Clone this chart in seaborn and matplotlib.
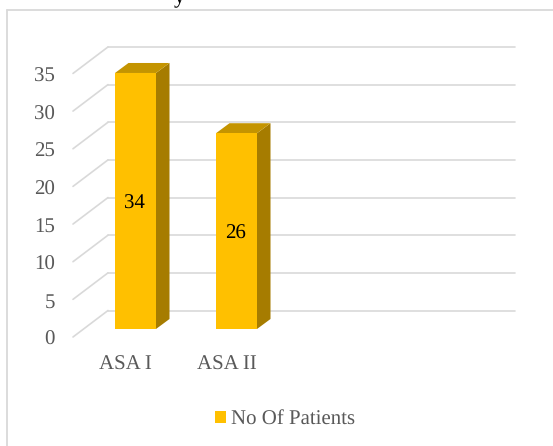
import matplotlib

matplotlib.use("Agg")

import matplotlib.pyplot as plt
import pandas as pd
import seaborn as sns
from matplotlib.lines import Line2D
from matplotlib.patches import Polygon
from matplotlib.transforms import Affine2D

CATEGORIES = ["ASA I", "ASA II"]
PATIENTS = [34, 26]
SERIES_NAME = "No Of Patients"
Y_TICKS = [0, 5, 10, 15, 20, 25, 30, 35]

GOLD = "#ffc000"
GOLD_SIDE = "#a67c00"
GOLD_TOP = "#c49400"
GRID = "#d9d9d9"
TEXT = "#595959"

W, H = 553, 446
PX = 1 / 100
PLOT_LEFT, PLOT_RIGHT = 85, 489
BASE_Y, PX_PER_UNIT = 329, 7.53

sns.set_theme(style="white")
plt.rcParams["font.family"] = ["Liberation Serif", "DejaVu Serif"]
plt.rcParams["text.hinting"] = "no_hinting"

df = pd.DataFrame({"grade": CATEGORIES, "patients": PATIENTS, "series": SERIES_NAME})

fig = plt.figure(figsize=(W * PX, H * PX), dpi=100)
ax = fig.add_axes(
    [
        PLOT_LEFT / W,
        (H - BASE_Y) / H,
        (PLOT_RIGHT - PLOT_LEFT) / W,
        35 * PX_PER_UNIT / H,
    ]
)
ax.patch.set_alpha(0)

sns.barplot(
    data=df,
    x="grade",
    y="patients",
    hue="series",
    palette=[GOLD],
    width=0.406,
    saturation=1,
    linewidth=0,
    edgecolor="none",
    ax=ax,
    zorder=3,
)
ax.set_xlim(-0.5, 3.5)
ax.set_ylim(0, 35)
ax.set_xlabel("")
ax.set_ylabel("")
sns.despine(ax=ax, left=True, bottom=True)

# chart frame, only top and left fall inside the crop
for xs, ys in [((7, 7), (0, 436)), ((7, W), (436, 436))]:
    fig.add_artist(
        Line2D(
            [x / W for x in xs],
            [y / H for y in ys],
            color=GRID,
            lw=1.3,
            transform=fig.transFigure,
        )
    )

# walls of the 3d box, shifted in pixels from the data position
front = ax.transData + Affine2D().translate(0, -8)
back = ax.transData + Affine2D().translate(0, 18.5)
x_front = -0.5 + (73 - PLOT_LEFT) / 101
x_back = -0.5 + (108 - PLOT_LEFT) / 101
x_end = -0.5 + (515 - PLOT_LEFT) / 101
for tick in Y_TICKS:
    ax.plot([x_back, x_end], [tick, tick], color=GRID, lw=1.2, transform=back,
            clip_on=False, zorder=1)
    p0 = front.transform((x_front, tick))
    p1 = back.transform((x_back, tick))
    ax.plot([p0[0], p1[0]], [p0[1], p1[1]], color=GRID, lw=1.2,
            transform=None, clip_on=False, zorder=1)

# side and top faces of each bar
depth_x = 13.5 / 101
depth_y = 10 / PX_PER_UNIT
for bar in ax.containers[0]:
    x0, x1 = bar.get_x(), bar.get_x() + bar.get_width()
    top = bar.get_height()
    ax.add_patch(
        Polygon(
            [(x1, 0), (x1 + depth_x, depth_y), (x1 + depth_x, top + depth_y), (x1, top)],
            facecolor=GOLD_SIDE,
            edgecolor="none",
            clip_on=False,
            zorder=2.5,
        )
    )
    ax.add_patch(
        Polygon(
            [(x0, top), (x0 + depth_x, top + depth_y), (x1 + depth_x, top + depth_y), (x1, top)],
            facecolor=GOLD_TOP,
            edgecolor="none",
            clip_on=False,
            zorder=2.5,
        )
    )
    bar.set_clip_on(False)

for ann in ax.bar_label(ax.containers[0], label_type="center", fontsize=15, color="black"):
    ann.xyann = (-0.5, -2.2)

ax.set_yticks(Y_TICKS)
ax.set_yticklabels([str(t) for t in Y_TICKS])
ax.tick_params(axis="y", length=0, pad=0, labelsize=15, labelcolor=TEXT)
for label in ax.get_yticklabels():
    label.set_transform(label.get_transform() + Affine2D().translate(-30, -9))

ax.set_xticks(range(len(CATEGORIES)))
ax.set_xticklabels(CATEGORIES)
ax.tick_params(axis="x", length=0, pad=0, labelsize=15, labelcolor=TEXT)
for label in ax.get_xticklabels():
    label.set_transform(label.get_transform() + Affine2D().translate(-10, -26))

ax.legend(
    loc="center left",
    bbox_to_anchor=(215 / W, (H - 419) / H),
    bbox_transform=fig.transFigure,
    frameon=False,
    fontsize=15,
    labelcolor=TEXT,
    handlelength=0.53,
    handleheight=0.53,
    handletextpad=0.25,
    borderpad=0,
    borderaxespad=0,
)

# descender of the cropped heading above the chart
fig.text(179 / W, (H - 2) / H, "y", fontsize=16, color="black", ha="center", va="baseline")

fig.savefig("out.png", dpi=100)
